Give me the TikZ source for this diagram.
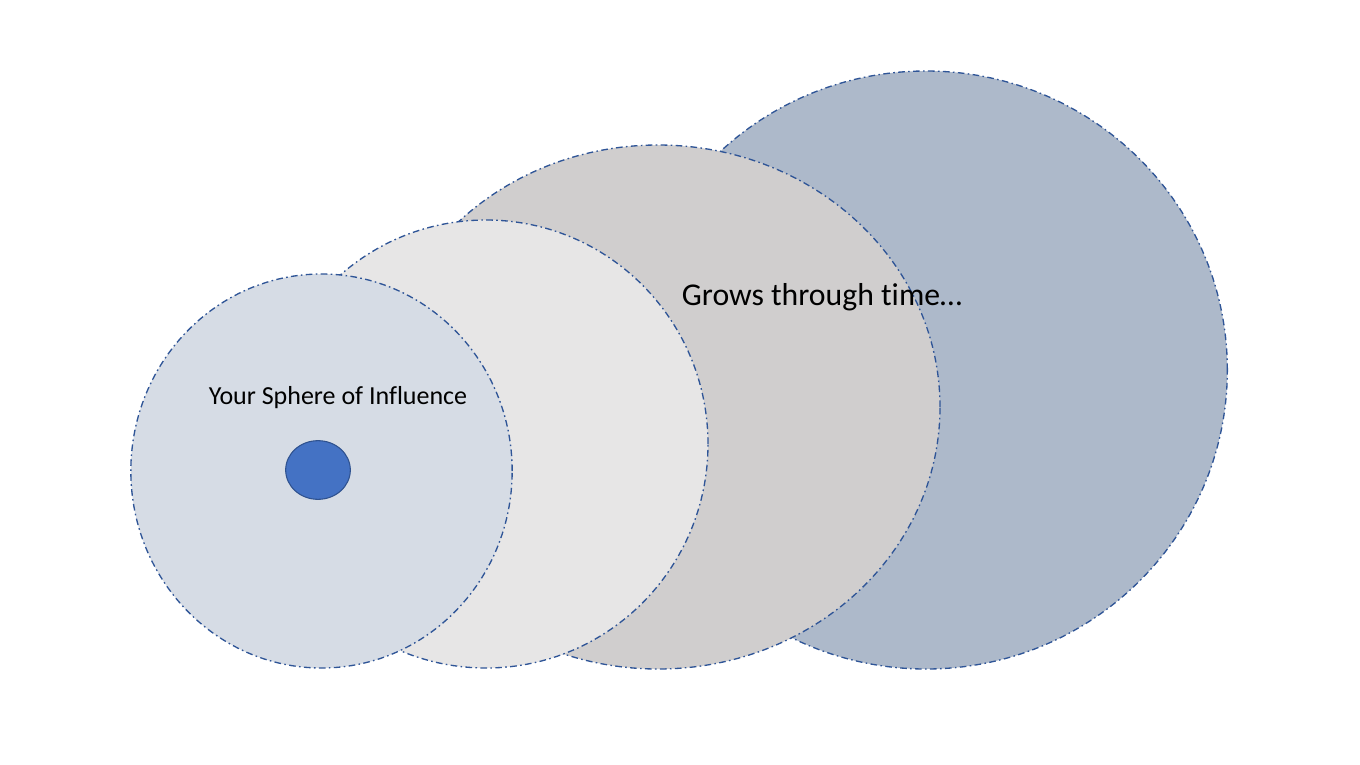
\documentclass[tikz,border=0pt]{standalone}
\usepackage{fontspec}
\setmainfont{Carlito}[Ligatures=NoCommon]
\usetikzlibrary{shapes.geometric}
\definecolor{rimblue}{HTML}{2F5597}
\definecolor{dotblue}{HTML}{4472C4}
\definecolor{dotrim}{HTML}{2F528F}
\definecolor{fillA}{HTML}{D6DCE5}
\definecolor{fillB}{HTML}{E7E6E6}
\definecolor{fillC}{HTML}{D0CECE}
\definecolor{fillD}{HTML}{ADB9CA}

\begin{document}
\begin{tikzpicture}[
  x=0.75pt,y=-0.75pt,
  sphere/.style={ellipse,draw=rimblue,line width=1pt,inner sep=0pt,
    dash pattern=on 5pt off 2.5pt on 1.2pt off 2.5pt},
  lbl/.style={font=\fontsize{19.5}{23}\selectfont,text=black}
]
\useasboundingbox (0,0) rectangle (1360,764);

% spheres, drawn from the largest (back) to the smallest (front)
\node[sphere,fill=fillD,minimum width=452pt,minimum height=448.5pt] (s4) at (926,370) {};
\node[sphere,fill=fillC,minimum width=423pt,minimum height=393pt] (s3) at (658,407) {};
\node[sphere,fill=fillB,minimum width=333pt,minimum height=336pt] (s2) at (486,444) {};
\node[sphere,fill=fillA,minimum width=286pt,minimum height=295.5pt] (s1) at (321.5,471) {};

% you, in the middle
\node[ellipse,draw=dotrim,line width=0.8pt,fill=dotblue,inner sep=0pt,
  minimum width=48.5pt,minimum height=44pt] (you) at (318,470) {};

% labels
\node[lbl] (inf) at (338,398) {Your Sphere of Influence};
\node[lbl,font=\fontsize{23.8}{28}\selectfont] (grow) at (822,297) {Grows through time…};
\end{tikzpicture}
\end{document}
